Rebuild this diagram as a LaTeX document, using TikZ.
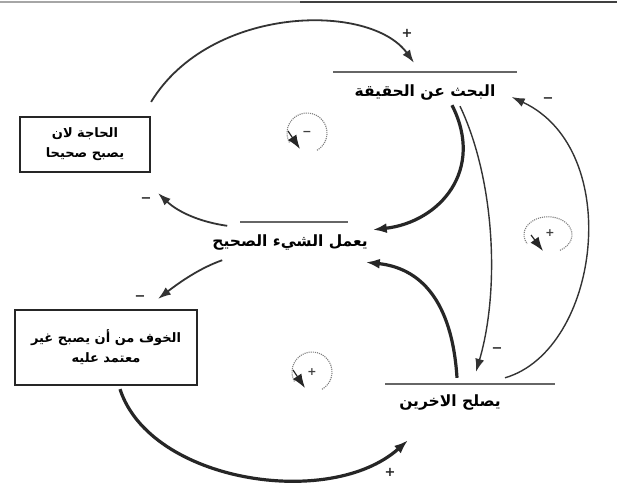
\documentclass[tikz,border=0pt]{standalone}
\usepackage{fontspec}
\usetikzlibrary{arrows.meta}
\newfontfamily\arabicfont[Script=Arabic]{DejaVu Sans}
\newfontfamily\signfont{DejaVu Sans}
\TeXXeTstate=1
\newcommand{\artext}[1]{{\arabicfont\beginR #1\endR}}

\tikzset{
  label/.style={inner sep=0pt, font=\fontsize{15.5}{18}\selectfont\bfseries},
  boxnode/.style={draw=black!85, line width=2.2pt, inner sep=0pt, align=center,
                  font=\fontsize{13}{20}\selectfont\bfseries},
  link/.style={draw=black!80, line width=1.8pt, -{Latex[length=13pt,width=9pt]}},
  thicklink/.style={draw=black!85, line width=3.2pt, -{Latex[length=14pt,width=10pt]}},
  thinlink/.style={draw=black!80, line width=1.4pt, -{Latex[length=13pt,width=9pt]}},
  overline/.style={draw=black!60, line width=1.4pt},
  sign/.style={inner sep=0pt, text=black!85, font=\signfont\fontsize{13}{13}\selectfont\bfseries},
  loopmark/.style={draw=black!50, densely dotted, line width=1.1pt},
  looparrow/.style={black!85, line width=1.2pt, -{Latex[length=14pt,width=10pt]}},
  loopsign/.style={inner sep=0pt, text=black!75, font=\signfont\fontsize{11}{11}\selectfont\bfseries},
}

\begin{document}
\begin{tikzpicture}[x=1pt, y=-1pt]
  \path[use as bounding box, fill=white] (0,0) rectangle (617,488);

  % scanned top edge
  \draw[black!35, line width=1.2pt] (0,2) -- (300,2);
  \draw[black!75, line width=1.8pt] (300,2) -- (617,2);

  % variables
  \node[label, minimum width=183pt, minimum height=40pt] (search) at (425,92)
       {\artext{البحث عن الحقيقة}};
  \node[label, minimum width=155pt, minimum height=40pt] (act) at (290,242)
       {\artext{يعمل الشيء الصحيح}};
  \node[label, minimum width=130pt, minimum height=36pt] (fix) at (450,402)
       {\artext{يصلح الاخرين}};
  \node[boxnode, minimum width=130pt, minimum height=55pt] (box1) at (85,144.5)
       {\artext{الحاجة لان}\\\artext{يصبح صحيحا}};
  \node[boxnode, minimum width=182pt, minimum height=75pt] (box2) at (106,347.5)
       {\artext{الخوف من أن يصبح غير}\\\artext{معتمد عليه}};

  % lines over the variable names
  \draw[overline] (search.north west) -- (search.north east);
  \draw[overline] ([xshift=-50pt]act.north) -- ([xshift=58pt]act.north);
  \draw[overline] ([xshift=-65pt]fix.north) -- ([xshift=105pt]fix.north);

  % upper loop
  \draw[link] ([yshift=14pt]box1.north east)
      .. controls (210,5) and (370,2) .. ([xshift=-11pt,yshift=9pt]search.north);
  \draw[thicklink] ([xshift=27pt,yshift=7pt]search.south)
      .. controls (485,170) and (440,222) .. ([xshift=5pt,yshift=-8pt]act.north east);
  \draw[link] ([xshift=15pt,yshift=-4pt]act.north west)
      .. controls (200,222) and (178,212) .. ([xshift=7pt,yshift=-20pt]box1.south east);

  % lower loop
  \draw[link] ([xshift=10pt,yshift=2pt]act.south west)
      .. controls (200,268) and (180,282) .. ([xshift=52pt,yshift=10pt]box2.north);
  \draw[thicklink] ([xshift=14pt,yshift=-3pt]box2.south)
      .. controls (150,482) and (330,510) .. ([xshift=-42pt,yshift=-20pt]fix.south);
  \draw[thicklink] ([xshift=7pt,yshift=6pt]fix.north)
      .. controls (452,300) and (420,268) .. ([xshift=-2pt]act.south east);

  % links on the right
  \draw[thinlink] ([xshift=35pt,yshift=6pt]search.south)
      .. controls (495,180) and (500,290) .. ([xshift=26pt,yshift=12pt]fix.north);
  \draw[thinlink] ([xshift=55pt,yshift=6pt]fix.north)
      .. controls (600,350) and (625,150) .. ([xshift=-5pt,yshift=-5pt]search.east);

  % polarities
  \node[sign] (s1) at (407,33) {+};
  \node[sign] (s2) at (146,200) {−};
  \node[sign] (s3) at (140,298) {−};
  \node[sign] (s4) at (390,472) {+};
  \node[sign] (s5) at (497,350) {−};
  \node[sign] (s6) at (548,100) {−};

  % loop markers
  \node[loopsign] (l1) at (307,133) {−};
  \draw[loopmark] (l1) ++(60:20) arc[start angle=60, end angle=-210, radius=20];
  \draw[looparrow] ([xshift=-19pt,yshift=2pt]l1.center) -- ([xshift=-7pt,yshift=-16pt]l1.center);

  \node[loopsign] (l2) at (550,233) {+};
  \draw[loopmark] (l2) ++(60:20) arc[start angle=60, end angle=-210, x radius=24, y radius=18];
  \draw[looparrow] ([xshift=-19pt,yshift=-2pt]l2.center) -- ([xshift=-7pt,yshift=-18pt]l2.center);

  \node[loopsign] (l3) at (312,372) {+};
  \draw[loopmark] (l3) ++(60:20) arc[start angle=60, end angle=-210, radius=20];
  \draw[looparrow] ([xshift=-19pt,yshift=2pt]l3.center) -- ([xshift=-7pt,yshift=-16pt]l3.center);
\end{tikzpicture}
\end{document}
